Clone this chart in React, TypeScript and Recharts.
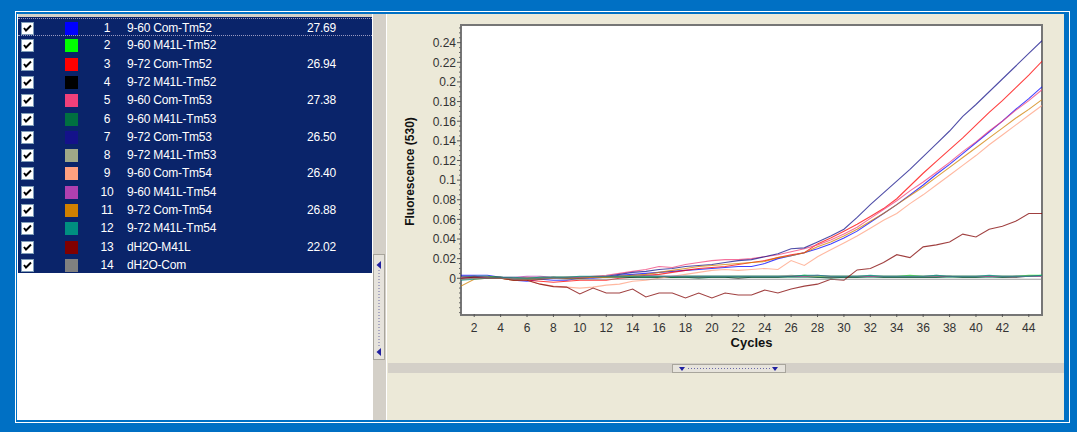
import type { JSX } from 'react';
import { Label, Line, LineChart, XAxis, YAxis } from 'recharts';

const cycles = [
  1, 2, 3, 4, 5, 6, 7, 8, 9, 10, 11, 12, 13, 14, 15, 16, 17, 18, 19, 20, 21, 22, 23,
  24, 25, 26, 27, 28, 29, 30, 31, 32, 33, 34, 35, 36, 37, 38, 39, 40, 41, 42, 43, 44, 45,
];

const sampleNames = [
  '9-60 Com-Tm52', '9-60 M41L-Tm52', '9-72 Com-Tm52', '9-72 M41L-Tm52',
  '9-60 Com-Tm53', '9-60 M41L-Tm53', '9-72 Com-Tm53', '9-72 M41L-Tm53',
  '9-60 Com-Tm54', '9-60 M41L-Tm54', '9-72 Com-Tm54', '9-72 M41L-Tm54',
  'dH2O-M41L', 'dH2O-Com',
];
const sampleColors = [
  '#0000FF', '#00FF00', '#FF0000', '#000000', '#F0407A', '#007040', '#14128A',
  '#A0A888', '#FFA080', '#B040B0', '#D08000', '#008F80', '#800000', '#808080',
];
const ctValues = ['27.69', '', '26.94', '', '27.38', '', '26.50', '', '26.40', '', '26.88', '', '22.02', ''];

// fluorescence (530) per cycle, one list per sample
const s1 = [0.003, 0.003, 0.003, 0.001, -0.002, -0.003, -0.001, -0.002, -0.002, 0.0, 0.0, 0.001, 0.003, 0.004, 0.005, 0.006, 0.007, 0.008, 0.009, 0.01, 0.011, 0.012, 0.012, 0.015, 0.02, 0.023, 0.026, 0.03, 0.035, 0.041, 0.048, 0.057, 0.066, 0.075, 0.085, 0.095, 0.106, 0.116, 0.127, 0.138, 0.149, 0.16, 0.172, 0.183, 0.195];
const s2 = [0.001, 0.002, 0.002, 0.001, 0.0, 0.0, 0.001, 0.001, 0.001, 0.001, 0.001, 0.001, 0.002, 0.002, 0.002, 0.002, 0.001, 0.002, 0.002, 0.002, 0.002, 0.002, 0.002, 0.002, 0.002, 0.002, 0.003, 0.002, 0.002, 0.002, 0.002, 0.002, 0.002, 0.002, 0.003, 0.002, 0.002, 0.002, 0.002, 0.002, 0.002, 0.002, 0.002, 0.003, 0.003];
const s3 = [0.0, 0.001, 0.0, 0.0, -0.001, -0.002, -0.003, -0.004, -0.003, -0.002, -0.002, -0.002, 0.0, 0.001, 0.003, 0.004, 0.006, 0.008, 0.01, 0.011, 0.012, 0.014, 0.016, 0.018, 0.021, 0.024, 0.026, 0.035, 0.041, 0.048, 0.055, 0.063, 0.071, 0.081, 0.094, 0.107, 0.119, 0.131, 0.143, 0.156, 0.169, 0.181, 0.194, 0.207, 0.221];
const s4 = [0.0, 0.001, 0.001, 0.001, 0.0, -0.001, 0.0, 0.001, 0.0, 0.0, 0.001, 0.001, 0.001, 0.001, 0.001, 0.001, 0.001, 0.001, 0.001, 0.001, 0.001, 0.0, 0.001, 0.001, 0.001, 0.002, 0.002, 0.001, 0.001, 0.001, 0.001, 0.002, 0.001, 0.001, 0.001, 0.001, 0.001, 0.002, 0.001, 0.001, 0.002, 0.001, 0.001, 0.002, 0.002];
const s5 = [0.001, 0.001, 0.001, 0.0, 0.0, 0.001, 0.0, 0.0, 0.001, 0.001, 0.002, 0.003, 0.005, 0.007, 0.009, 0.012, 0.011, 0.014, 0.016, 0.018, 0.019, 0.019, 0.02, 0.022, 0.024, 0.027, 0.03, 0.034, 0.039, 0.045, 0.052, 0.061, 0.07, 0.079, 0.089, 0.098, 0.108, 0.118, 0.129, 0.139, 0.15, 0.16, 0.171, 0.181, 0.192];
const s6 = [-0.001, 0.0, 0.001, 0.001, 0.0, 0.0, 0.0, 0.001, 0.001, 0.001, 0.001, 0.001, 0.001, 0.001, 0.001, 0.001, 0.001, 0.001, 0.0, 0.001, 0.001, 0.001, 0.001, 0.001, 0.001, 0.001, 0.001, 0.001, 0.0, 0.001, 0.001, 0.001, 0.001, 0.001, 0.001, 0.001, 0.001, 0.001, 0.001, 0.001, 0.001, 0.001, 0.002, 0.002, 0.002];
const s7 = [0.002, 0.002, 0.001, 0.0, -0.001, -0.001, -0.001, 0.0, 0.0, 0.001, 0.001, 0.002, 0.004, 0.006, 0.007, 0.009, 0.01, 0.012, 0.013, 0.014, 0.016, 0.018, 0.019, 0.022, 0.025, 0.03, 0.031, 0.037, 0.043, 0.05, 0.062, 0.075, 0.087, 0.099, 0.111, 0.124, 0.137, 0.15, 0.165, 0.177, 0.19, 0.203, 0.216, 0.229, 0.242];
const s8 = [0.001, 0.001, 0.001, 0.0, 0.0, 0.0, 0.001, 0.001, 0.001, 0.001, 0.001, 0.001, 0.001, 0.002, 0.002, 0.002, 0.002, 0.002, 0.002, 0.002, 0.002, 0.002, 0.002, 0.002, 0.002, 0.003, 0.002, 0.002, 0.002, 0.002, 0.002, 0.002, 0.002, 0.002, 0.002, 0.002, 0.003, 0.002, 0.002, 0.002, 0.002, 0.002, 0.002, 0.002, 0.002];
const s9 = [-0.001, 0.0, 0.0, 0.0, -0.002, -0.002, -0.006, -0.008, -0.009, -0.01, -0.009, -0.007, -0.006, -0.003, -0.002, 0.0, 0.002, 0.004, 0.006, 0.008, 0.009, 0.008, 0.009, 0.01, 0.009, 0.018, 0.013, 0.022, 0.029, 0.036, 0.043, 0.051, 0.059, 0.066, 0.076, 0.085, 0.095, 0.105, 0.115, 0.125, 0.136, 0.146, 0.156, 0.166, 0.176];
const s10 = [0.0, 0.001, 0.001, 0.001, 0.001, 0.002, 0.002, 0.001, 0.001, 0.001, 0.001, 0.002, 0.002, 0.003, 0.003, 0.002, 0.002, 0.002, 0.002, 0.002, 0.002, 0.002, 0.002, 0.002, 0.002, 0.002, 0.002, 0.003, 0.002, 0.002, 0.002, 0.002, 0.002, 0.002, 0.002, 0.002, 0.002, 0.002, 0.002, 0.002, 0.002, 0.002, 0.002, 0.002, 0.002];
const s11 = [-0.008, -0.001, 0.0, 0.0, -0.002, -0.001, -0.001, 0.0, 0.0, 0.0, 0.001, 0.001, 0.002, 0.003, 0.004, 0.006, 0.008, 0.01, 0.012, 0.013, 0.014, 0.015, 0.016, 0.017, 0.021, 0.023, 0.026, 0.032, 0.037, 0.043, 0.05, 0.058, 0.066, 0.075, 0.084, 0.093, 0.103, 0.113, 0.123, 0.133, 0.143, 0.153, 0.163, 0.172, 0.182];
const s12 = [-0.002, -0.001, 0.0, 0.001, 0.001, 0.0, 0.001, 0.001, 0.001, 0.002, 0.002, 0.002, 0.002, 0.002, 0.002, 0.002, 0.002, 0.002, 0.002, 0.002, 0.002, 0.002, 0.002, 0.002, 0.002, 0.002, 0.003, 0.003, 0.002, 0.002, 0.002, 0.003, 0.002, 0.002, 0.002, 0.002, 0.003, 0.002, 0.002, 0.002, 0.003, 0.002, 0.002, 0.002, 0.003];
const s13 = [0.0, 0.001, 0.0, 0.0, -0.002, -0.002, -0.006, -0.0085, -0.009, -0.016, -0.01, -0.015, -0.015, -0.011, -0.019, -0.015, -0.015, -0.02, -0.015, -0.02, -0.015, -0.017, -0.017, -0.012, -0.015, -0.011, -0.008, -0.006, -0.001, -0.002, 0.0085, 0.01, 0.016, 0.024, 0.021, 0.032, 0.034, 0.037, 0.045, 0.042, 0.05, 0.053, 0.058, 0.066, 0.066];
const s14 = [-0.001, 0.0, 0.0, 0.0, -0.001, -0.001, 0.0, 0.0, -0.001, -0.001, -0.001, -0.001, -0.001, -0.001, -0.001, -0.001, -0.001, -0.001, -0.001, -0.001, -0.001, -0.001, -0.001, -0.001, -0.001, -0.001, -0.001, -0.001, -0.001, -0.001, -0.001, -0.001, -0.001, -0.001, -0.001, -0.001, -0.001, -0.001, -0.001, -0.001, -0.001, -0.001, -0.001, -0.001, -0.001];

const seriesValues = [s1, s2, s3, s4, s5, s6, s7, s8, s9, s10, s11, s12, s13, s14];

const xTickValues = [2, 4, 6, 8, 10, 12, 14, 16, 18, 20, 22, 24, 26, 28, 30, 32, 34, 36, 38, 40, 42, 44];
const yTickValues = [0, 0.02, 0.04, 0.06, 0.08, 0.1, 0.12, 0.14, 0.16, 0.18, 0.2, 0.22, 0.24];
const yTickLabels = ['0', '0.02', '0.04', '0.06', '0.08', '0.1', '0.12', '0.14', '0.16', '0.18', '0.2', '0.22', '0.24'];
const yMinorTicks = Array.from({ length: 59 }, (_, i) => Math.round((-0.035 + i * 0.005) * 1000) / 1000)
  .filter((v) => !yTickValues.some((t) => Math.abs(t - v) < 1e-6));

const chartData = cycles.map((cycle, i) => {
  const row: Record<string, number> = { cycle };
  seriesValues.forEach((values, k) => {
    row[`s${k + 1}`] = values[i];
  });
  return row;
});

const FONT = '"Liberation Sans", Arial, sans-serif';
const NAVY = '#0A246A';
const PANEL_GRAY = '#D4D0C8';
const BEIGE = '#ECE9D8';

function YTick({ x, y, payload }: any): JSX.Element {
  const idx = yTickValues.findIndex((t) => Math.abs(t - payload.value) < 1e-6);
  if (idx < 0) {
    return <line x1={x - 2} x2={x} y1={y} y2={y} stroke="#666" strokeWidth={1} />;
  }
  return (
    <g>
      <line x1={x - 4} x2={x} y1={y} y2={y} stroke="#555" strokeWidth={1} />
      <text x={x - 5} y={y + 4.3} textAnchor="end" fontSize={12} fontFamily={FONT} fill="#333">
        {yTickLabels[idx]}
      </text>
    </g>
  );
}

function XTick({ x, y, payload }: any): JSX.Element {
  return (
    <g>
      <line x1={x} x2={x} y1={y} y2={y + 3} stroke="#555" strokeWidth={1} />
      <text x={x} y={y + 17.5} textAnchor="middle" fontSize={12} fontFamily={FONT} fill="#333">
        {payload.value}
      </text>
    </g>
  );
}

function CheckBox(): JSX.Element {
  return (
    <svg width={13} height={13} style={{ position: 'absolute', left: 21, top: 3 }}>
      <rect x={0.5} y={0.5} width={12} height={12} fill="#fff" stroke="#7f9db9" />
      <path d="M3 6 L5 8.5 L10 3.5" fill="none" stroke="#000" strokeWidth={2} />
    </svg>
  );
}

function SampleTable(): JSX.Element {
  return (
    <div style={{ position: 'absolute', left: 18, top: 17, width: 354, height: 256, background: NAVY }}>
      {sampleNames.map((name, i) => (
        <div
          key={name}
          style={{
            position: 'absolute',
            left: 0,
            top: 1 + i * 18.3,
            width: 354,
            height: 18.3,
            color: '#fff',
            fontSize: 12,
            lineHeight: '18px',
            letterSpacing: -0.2,
            borderTop: i === 0 ? '1px dotted #9a9ac0' : undefined,
            borderBottom: i === 0 ? '1px dotted #9a9ac0' : undefined,
            boxSizing: 'border-box',
          }}
        >
          <div style={{ position: 'absolute', left: -18, top: 0 }}>
            <CheckBox />
          </div>
          <div style={{ position: 'absolute', left: 47, top: 3, width: 13, height: 13, background: sampleColors[i] }} />
          <div style={{ position: 'absolute', left: 77, width: 24, textAlign: 'center', top: 0 }}>{i + 1}</div>
          <div style={{ position: 'absolute', left: 109, top: 0 }}>{name}</div>
          <div style={{ position: 'absolute', left: 289, top: 0 }}>{ctValues[i]}</div>
        </div>
      ))}
    </div>
  );
}

function VerticalHandle(): JSX.Element {
  return (
    <svg width={13} height={107} style={{ position: 'absolute', left: 373, top: 254 }}>
      <rect x={0.5} y={0.5} width={11} height={105} fill="#E6E3DC" stroke="#a8a59c" />
      <line x1={6} x2={6} y1={16} y2={92} stroke="#6a6aa8" strokeDasharray="1 2" />
      <path d="M3.5 11 L8 7 L8 15 Z" fill="#2020a0" />
      <path d="M3.5 98 L8 94 L8 102 Z" fill="#2020a0" />
    </svg>
  );
}

function HorizontalHandle(): JSX.Element {
  return (
    <svg width={114} height={9} style={{ position: 'absolute', left: 672, top: 364 }}>
      <rect x={0.5} y={0.5} width={113} height={8} fill="#E6E3DC" stroke="#a8a59c" />
      <line x1={16} x2={98} y1={4.5} y2={4.5} stroke="#6a6aa8" strokeDasharray="1 2" />
      <path d="M7 3 L13 3 L10 7 Z" fill="#2020a0" />
      <path d="M100 3 L106 3 L103 7 Z" fill="#2020a0" />
    </svg>
  );
}

function FluorescenceChart(): JSX.Element {
  return (
    <div style={{ position: 'absolute', left: 390, top: 15, width: 672, height: 345 }}>
      <LineChart
        width={672}
        height={345}
        data={chartData}
        margin={{ top: 10, right: 20, bottom: 12, left: 21 }}
      >
        <XAxis
          dataKey="cycle"
          type="number"
          domain={[1, 45]}
          ticks={xTickValues}
          allowDataOverflow
          height={34}
          axisLine={false}
          tickLine={false}
          tickSize={0}
          tickMargin={0}
          tick={<XTick />}
          interval={0}
        >
          <Label
            content={({ viewBox }: any) => (
              <text
                x={viewBox.x + viewBox.width / 2}
                y={viewBox.y + 33}
                textAnchor="middle"
                fontSize={13}
                fontWeight="bold"
                fontFamily={FONT}
                fill="#111"
              >
                Cycles
              </text>
            )}
          />
        </XAxis>
        <YAxis
          type="number"
          domain={[-0.0364, 0.258]}
          ticks={[...yTickValues, ...yMinorTicks]}
          allowDataOverflow
          width={50}
          axisLine={false}
          tickLine={false}
          tickSize={0}
          tickMargin={0}
          tick={<YTick />}
          interval={0}
        >
          <Label
            content={({ viewBox }: any) => {
              const cx = viewBox.x - 1;
              const cy = viewBox.y + viewBox.height / 2 + 2;
              return (
                <text
                  x={cx}
                  y={cy}
                  transform={`rotate(-90 ${cx} ${cy})`}
                  textAnchor="middle"
                  dominantBaseline="central"
                  fontSize={12}
                  fontWeight="bold"
                  fontFamily={FONT}
                  fill="#111"
                >
                  Fluorescence (530)
                </text>
              );
            }}
          />
        </YAxis>
        {sampleNames.map((name, k) => (
          <Line
            key={name}
            type="linear"
            dataKey={`s${k + 1}`}
            name={name}
            stroke={sampleColors[k]}
            strokeOpacity={0.75}
            strokeWidth={1.1}
            dot={false}
            activeDot={false}
            isAnimationActive={false}
          />
        ))}
      </LineChart>
    </div>
  );
}

export default function App(): JSX.Element {
  return (
    <div
      style={{
        position: 'fixed',
        left: 0,
        top: 0,
        width: 1077,
        height: 432,
        background: '#0070C4',
        fontFamily: FONT,
        overflow: 'hidden',
      }}
    >
      <div
        style={{
          position: 'absolute',
          left: 15,
          top: 11,
          width: 1055,
          height: 412,
          border: '1px solid #fff',
          boxSizing: 'border-box',
        }}
      />
      <div style={{ position: 'absolute', left: 17, top: 14, width: 356, height: 406, background: '#fff' }} />
      <div style={{ position: 'absolute', left: 18, top: 14, width: 354, height: 3, background: PANEL_GRAY }} />
      <SampleTable />
      <div style={{ position: 'absolute', left: 373, top: 14, width: 13, height: 406, background: PANEL_GRAY }} />
      <div style={{ position: 'absolute', left: 386, top: 14, width: 1, height: 406, background: '#fff' }} />
      <div style={{ position: 'absolute', left: 387, top: 14, width: 677, height: 406, background: BEIGE }} />
      <div style={{ position: 'absolute', left: 388, top: 363, width: 676, height: 10, background: PANEL_GRAY }} />
      <VerticalHandle />
      <HorizontalHandle />
      <div
        style={{
          position: 'absolute',
          left: 460,
          top: 24,
          width: 583,
          height: 292,
          background: '#fff',
          border: '2px solid #767676',
          boxSizing: 'border-box',
        }}
      />
      <FluorescenceChart />
    </div>
  );
}
